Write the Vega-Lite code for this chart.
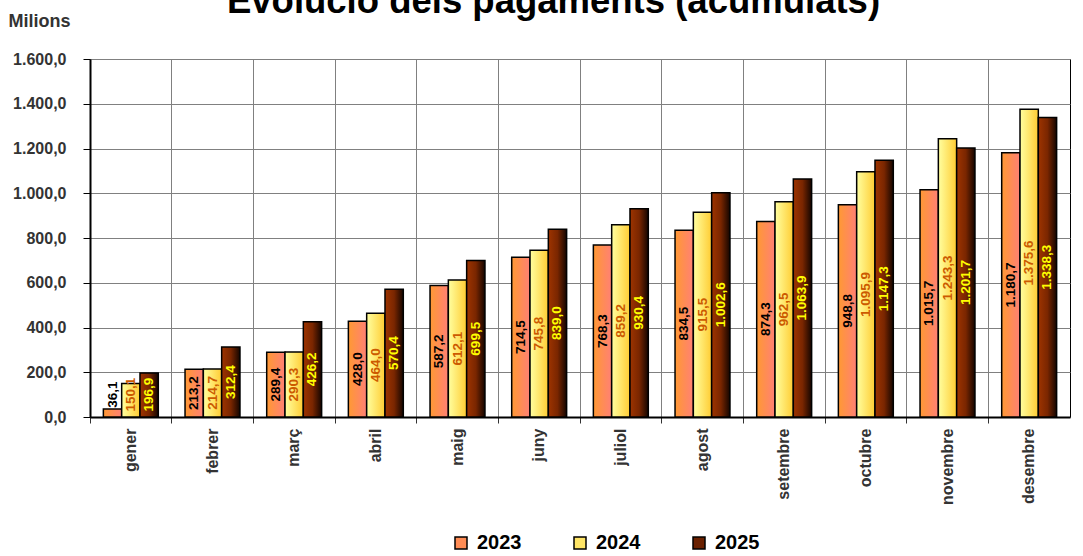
{
  "$schema": "https://vega.github.io/schema/vega-lite/v6.json",
  "autosize": "none",
  "width": 980,
  "height": 358,
  "padding": {"left": 90, "top": 59, "right": 13, "bottom": 139},
  "background": "white",
  "config": {
    "locale": {"number": {"decimal": ",", "thousands": ".", "grouping": [3], "currency": ["", " €"]}},
    "view": {"stroke": "#000000", "strokeWidth": 1},
    "font": "Liberation Sans"
  },
  "resolve": {"axis": {"y": "independent"}},
  "data": {
    "values": [
      {"mes": "gener", "any": "2023", "valor": 36.1},
      {"mes": "gener", "any": "2024", "valor": 150.1},
      {"mes": "gener", "any": "2025", "valor": 196.9},
      {"mes": "febrer", "any": "2023", "valor": 213.2},
      {"mes": "febrer", "any": "2024", "valor": 214.7},
      {"mes": "febrer", "any": "2025", "valor": 312.4},
      {"mes": "març", "any": "2023", "valor": 289.4},
      {"mes": "març", "any": "2024", "valor": 290.3},
      {"mes": "març", "any": "2025", "valor": 426.2},
      {"mes": "abril", "any": "2023", "valor": 428.0},
      {"mes": "abril", "any": "2024", "valor": 464.0},
      {"mes": "abril", "any": "2025", "valor": 570.4},
      {"mes": "maig", "any": "2023", "valor": 587.2},
      {"mes": "maig", "any": "2024", "valor": 612.1},
      {"mes": "maig", "any": "2025", "valor": 699.5},
      {"mes": "juny", "any": "2023", "valor": 714.5},
      {"mes": "juny", "any": "2024", "valor": 745.8},
      {"mes": "juny", "any": "2025", "valor": 839.0},
      {"mes": "juliol", "any": "2023", "valor": 768.3},
      {"mes": "juliol", "any": "2024", "valor": 859.2},
      {"mes": "juliol", "any": "2025", "valor": 930.4},
      {"mes": "agost", "any": "2023", "valor": 834.5},
      {"mes": "agost", "any": "2024", "valor": 915.5},
      {"mes": "agost", "any": "2025", "valor": 1002.6},
      {"mes": "setembre", "any": "2023", "valor": 874.3},
      {"mes": "setembre", "any": "2024", "valor": 962.5},
      {"mes": "setembre", "any": "2025", "valor": 1063.9},
      {"mes": "octubre", "any": "2023", "valor": 948.8},
      {"mes": "octubre", "any": "2024", "valor": 1095.9},
      {"mes": "octubre", "any": "2025", "valor": 1147.3},
      {"mes": "novembre", "any": "2023", "valor": 1015.7},
      {"mes": "novembre", "any": "2024", "valor": 1243.3},
      {"mes": "novembre", "any": "2025", "valor": 1201.7},
      {"mes": "desembre", "any": "2023", "valor": 1180.7},
      {"mes": "desembre", "any": "2024", "valor": 1375.6},
      {"mes": "desembre", "any": "2025", "valor": 1338.3}
    ]
  },
  "encoding": {
    "x": {
      "field": "mes",
      "type": "nominal",
      "sort": ["gener", "febrer", "març", "abril", "maig", "juny", "juliol", "agost", "setembre", "octubre", "novembre", "desembre"],
      "scale": {"paddingInner": 0, "paddingOuter": 0},
      "axis": {
        "title": null,
        "bandPosition": 0,
        "labelAngle": -90,
        "labelAlign": "right",
        "labelBaseline": "middle",
        "labelFontSize": 16,
        "labelFontWeight": "bold",
        "labelColor": "#333333",
        "labelFont": "Liberation Sans",
        "labelPadding": 5,
        "grid": true,
        "gridColor": "#808080",
        "gridWidth": 1,
        "domainColor": "#000000",
        "domainWidth": 2,
        "tickColor": "#333333",
        "tickSize": 6
      }
    },
    "xOffset": {
      "field": "any",
      "type": "nominal",
      "scale": {"paddingInner": 0, "paddingOuter": 0.73}
    }
  },
  "layer": [
    {
      "mark": {"type": "bar", "stroke": "#000000", "strokeWidth": 1.5},
      "encoding": {
        "y": {
          "field": "valor",
          "type": "quantitative",
          "scale": {"domain": [0, 1600], "nice": false},
          "axis": {
            "title": "Milions",
            "titleAngle": 0,
            "titleAlign": "left",
            "titleBaseline": "alphabetic",
            "titleX": -82,
            "titleY": -33,
            "titleFontSize": 18,
            "titleFontWeight": "bold",
            "titleColor": "#333333",
            "titleFont": "Liberation Sans",
            "values": [0, 200, 400, 600, 800, 1000, 1200, 1400, 1600],
            "format": ",.1f",
            "labelFontSize": 16,
            "labelFontWeight": "bold",
            "labelColor": "#333333",
            "labelFont": "Liberation Sans",
            "labelPadding": 17,
            "grid": true,
            "gridColor": "#808080",
            "gridWidth": 1,
            "domainColor": "#000000",
            "domainWidth": 2,
            "tickColor": "#000000",
            "tickSize": 7
          }
        },
        "fill": {
          "condition": [
            {"test": "datum.any === '2023'", "value": {"gradient": "linear", "x1": 0, "y1": 0, "x2": 1, "y2": 0, "stops": [{"offset": 0, "color": "#FF9933"}, {"offset": 1, "color": "#FF8075"}]}},
            {"test": "datum.any === '2024'", "value": {"gradient": "linear", "x1": 0, "y1": 0, "x2": 1, "y2": 0, "stops": [{"offset": 0, "color": "#FFFFA0"}, {"offset": 1, "color": "#FFCC33"}]}}
          ],
          "value": {"gradient": "linear", "x1": 0, "y1": 0, "x2": 1, "y2": 0, "stops": [{"offset": 0, "color": "#9E3400"}, {"offset": 0.5, "color": "#7A2600"}, {"offset": 1, "color": "#140500"}]}
        }
      }
    },
    {
      "mark": {"type": "point", "filled": true, "size": 0, "opacity": 1},
      "encoding": {
        "y": {
          "field": "valor",
          "type": "quantitative",
          "scale": {"domain": [0, 1600], "nice": false},
          "axis": {
            "orient": "right",
            "title": "Evolució dels pagaments (acumulats)",
            "titleAngle": 0,
            "titleAlign": "center",
            "titleBaseline": "alphabetic",
            "titleX": -517,
            "titleY": -47,
            "titleFontSize": 36.5,
            "titleFontWeight": "bold",
            "titleColor": "#000000",
            "titleFont": "Liberation Sans",
            "labels": false,
            "ticks": false,
            "domain": false,
            "grid": false
          }
        },
        "fill": {
          "field": "any",
          "type": "nominal",
          "scale": {"domain": ["2023", "2024", "2025"], "range": ["#FF8C55", "#FFE566", "#6A2000"]},
          "legend": {
            "orient": "none",
            "legendX": 361,
            "legendY": 474,
            "direction": "horizontal",
            "title": null,
            "symbolType": "square",
            "symbolSize": 144,
            "symbolStrokeColor": "#000000",
            "symbolStrokeWidth": 1.5,
            "labelFontSize": 20,
            "labelFontWeight": "bold",
            "labelColor": "#000000",
            "labelFont": "Liberation Sans",
            "labelOffset": 6,
            "columnPadding": 48,
            "padding": 0,
            "encode": {
              "symbols": {
                "update": {
                  "size": {"value": 144},
                  "stroke": {"value": "#000000"},
                  "strokeWidth": {"value": 1.5},
                  "fill": [
                    {"test": "datum.value === '2023'", "value": {"gradient": "linear", "x1": 0, "y1": 0, "x2": 1, "y2": 0, "stops": [{"offset": 0, "color": "#FF9933"}, {"offset": 1, "color": "#FF8075"}]}},
                    {"test": "datum.value === '2024'", "value": {"gradient": "linear", "x1": 0, "y1": 0, "x2": 1, "y2": 0, "stops": [{"offset": 0, "color": "#FFFFA0"}, {"offset": 1, "color": "#FFCC33"}]}},
                    {"value": {"gradient": "linear", "x1": 0, "y1": 0, "x2": 1, "y2": 0, "stops": [{"offset": 0, "color": "#9E3400"}, {"offset": 0.5, "color": "#7A2600"}, {"offset": 1, "color": "#140500"}]}}
                  ]
                }
              }
            }
          }
        }
      }
    },
    {
      "transform": [{"calculate": "max(datum.valor / 2, 100)", "as": "pos"}],
      "mark": {
        "type": "text",
        "angle": 270,
        "align": "center",
        "baseline": "middle",
        "font": "Liberation Sans",
        "fontSize": 13.5,
        "fontWeight": "bold"
      },
      "encoding": {
        "y": {"field": "pos", "type": "quantitative", "scale": {"domain": [0, 1600], "nice": false}, "axis": null},
        "text": {"field": "valor", "type": "quantitative", "format": ",.1f"},
        "color": {
          "field": "any",
          "type": "nominal",
          "scale": {"domain": ["2023", "2024", "2025"], "range": ["#000000", "#CC5A00", "#FFFF00"]},
          "legend": null
        }
      }
    }
  ]
}
